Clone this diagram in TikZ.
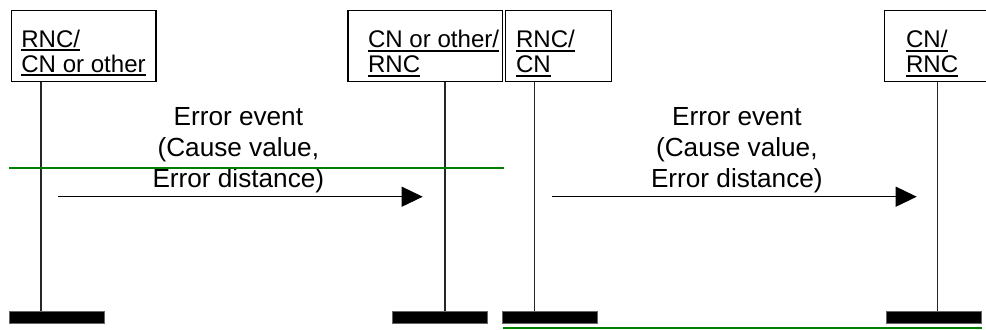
\documentclass[tikz,border=0pt]{standalone}
\usepackage{fontspec}
\setmainfont{Liberation Sans}
\usetikzlibrary{arrows.meta}
\definecolor{revGreen}{RGB}{0,128,0}
% thick underline used in the entity labels
\newcommand{\ulText}[1]{\setbox0\hbox{#1}\rlap{\rule[-0.08cm]{\wd0}{0.04cm}}\box0}

\begin{document}
\begin{tikzpicture}[
  x=0.02cm, y=-0.02cm,
  ent/.style={draw, line width=0.6pt, minimum height=1.41cm, inner sep=0pt},
  entlbl/.style={anchor=base west, align=left, inner sep=0pt,
                 font=\fontsize{13.7pt}{14.2pt}\selectfont},
  life/.style={line width=0.6pt, black!85},
  endbar/.style={fill=black, draw=black!60, line width=0.5pt,
                 minimum width=1.9cm, minimum height=0.246cm, inner sep=0pt},
  msg/.style={-{Triangle[length=0.42cm,width=0.4cm]}, line width=0.6pt},
  msglbl/.style={anchor=base, yshift=0.194cm, align=center, inner sep=0pt,
                 font=\fontsize{14.9pt}{17.6pt}\selectfont},
  revline/.style={revGreen, line width=1.1pt}
]
\clip (0,0) rectangle (986,329);

% entity boxes
\node[ent, minimum width=2.886cm] (rncA) at (83.85,46) {};
\node[ent, minimum width=3.086cm] (cnA)  at (425.15,46) {};
\node[ent, minimum width=2.12cm]  (rncB) at (558.7,46) {};
\node[ent, minimum width=3.086cm] (cnB)  at (962,46) {};

% labels sit on the baseline of their second line
\node[entlbl] (rncAlbl) at (21,72.4)    {\ulText{RNC/}\\\ulText{CN or other}};
\node[entlbl] (cnAlbl)  at (367.7,72.8) {\ulText{CN or other/}\\\ulText{RNC}};
\node[entlbl] (rncBlbl) at (515.7,72.8) {\ulText{RNC/}\\\ulText{CN}};
\node[entlbl] (cnBlbl)  at (905.7,72.6) {\ulText{CN/}\\\ulText{RNC}};

% end bars
\node[endbar] (barA) at (56.5,317.2) {};
\node[endbar] (barB) at (440,317.2) {};
\node[endbar] (barC) at (550.2,317.2) {};
\node[endbar] (barD) at (934.2,317.2) {};

% lifelines
\coordinate (lA) at (41,0);
\coordinate (lB) at (445,0);
\coordinate (lC) at (534.3,0);
\coordinate (lD) at (937.7,0);
\draw[life] (rncA.south -| lA) -- (barA.north -| lA);
\draw[life] (cnA.south -| lB)  -- (barB.north -| lB);
\draw[life] (rncB.south -| lC) -- (barC.north -| lC);
\draw[life] (cnB.south -| lD)  -- (barD.north -| lD);

% messages
\coordinate (errAs) at (58,196.7);
\coordinate (errAe) at (422.7,196.7);
\coordinate (errBs) at (552,196.7);
\coordinate (errBe) at (916.7,196.7);
\draw[msg] (errAs) -- node[msglbl,midway,xshift=-0.04cm]
  {Error event\\(Cause value,\\Error distance)} (errAe);
\draw[msg] (errBs) -- node[msglbl,midway,xshift=0.05cm]
  {Error event\\(Cause value,\\Error distance)} (errBe);

% green marker lines
\draw[revline] (9,168) -- (504,168);
\draw[revline] (503,328.4) -- (982,328.4);

\end{tikzpicture}
\end{document}
